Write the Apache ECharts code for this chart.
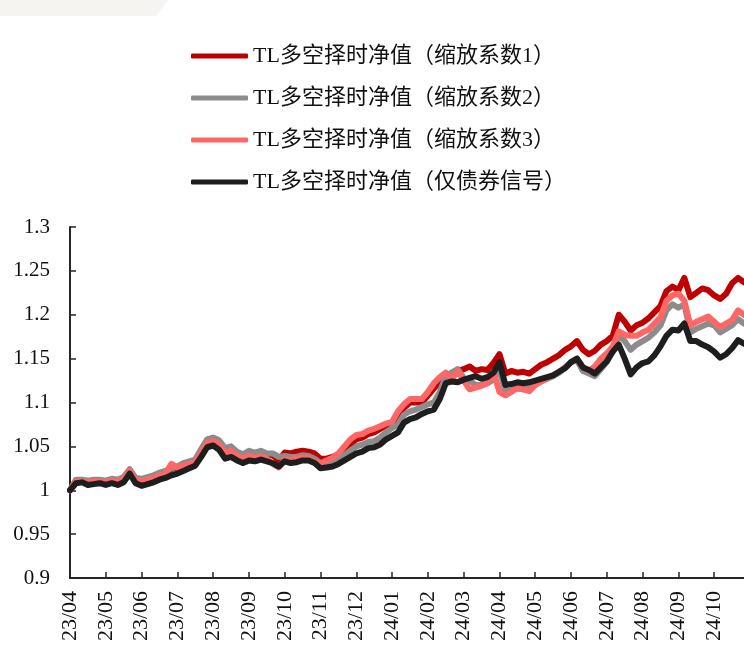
<!DOCTYPE html>
<html>
<head>
<meta charset="utf-8">
<script src="https://cdn.jsdelivr.net/npm/echarts@6/dist/echarts.min.js"></script>
<style>
  html, body { margin: 0; padding: 0; background: #fff; }
  #chart { width: 744px; height: 649px; }
</style>
</head>
<body>
<div id="chart"></div>
<script>
	// 月份与每月取点日（每月6个观测点）
	var months = ['2023-04','2023-05','2023-06','2023-07','2023-08','2023-09','2023-10','2023-11','2023-12',
	              '2024-01','2024-02','2024-03','2024-04','2024-05','2024-06','2024-07','2024-08','2024-09','2024-10'];
	var days = ['01','06','11','16','21','26'];

	var seriesNames = ['TL多空择时净值（缩放系数1）','TL多空择时净值（缩放系数2）','TL多空择时净值（缩放系数3）','TL多空择时净值（仅债券信号）'];
	var colors = ['#C00000','#8C8C8C','#FF6666','#1E1E1E'];

	// 缩放系数1
	var nav1 = [
		1.000, 1.011, 1.011, 1.010, 1.011, 1.011,
		1.010, 1.012, 1.011, 1.014, 1.023, 1.013,
		1.012, 1.014, 1.016, 1.019, 1.021, 1.024,
		1.026, 1.030, 1.032, 1.034, 1.046, 1.057,
		1.059, 1.055, 1.046, 1.048, 1.042, 1.039,
		1.043, 1.041, 1.043, 1.040, 1.040, 1.034,
		1.043, 1.042, 1.044, 1.045, 1.044, 1.042,
		1.036, 1.036, 1.038, 1.041, 1.046, 1.052,
		1.058, 1.060, 1.064, 1.066, 1.070, 1.074,
		1.076, 1.086, 1.094, 1.100, 1.100, 1.100,
		1.108, 1.116, 1.124, 1.132, 1.128, 1.136,
		1.138, 1.141, 1.136, 1.138, 1.137, 1.145,
		1.155, 1.133, 1.136, 1.134, 1.135, 1.133,
		1.138, 1.143, 1.146, 1.150, 1.154, 1.160,
		1.164, 1.170, 1.160, 1.155, 1.159, 1.166,
		1.170, 1.176, 1.200, 1.192, 1.182, 1.188,
		1.191, 1.196, 1.203, 1.210, 1.227, 1.232,
		1.228, 1.242, 1.220, 1.225, 1.230, 1.228,
		1.222, 1.218, 1.224, 1.236, 1.242, 1.237
	];
	// 缩放系数2
	var nav2 = [
		1.000, 1.012, 1.012, 1.011, 1.012, 1.012,
		1.011, 1.013, 1.012, 1.015, 1.024, 1.014,
		1.013, 1.015, 1.017, 1.020, 1.022, 1.025,
		1.027, 1.031, 1.033, 1.035, 1.047, 1.058,
		1.060, 1.057, 1.048, 1.050, 1.044, 1.041,
		1.045, 1.043, 1.045, 1.042, 1.042, 1.038,
		1.039, 1.038, 1.038, 1.040, 1.039, 1.036,
		1.031, 1.032, 1.033, 1.036, 1.040, 1.045,
		1.050, 1.052, 1.055, 1.056, 1.060, 1.066,
		1.071, 1.075, 1.086, 1.090, 1.092, 1.095,
		1.098, 1.100, 1.112, 1.130, 1.134, 1.138,
		1.128, 1.125, 1.120, 1.120, 1.122, 1.126,
		1.138, 1.112, 1.114, 1.116, 1.115, 1.117,
		1.120, 1.124, 1.127, 1.130, 1.134, 1.140,
		1.146, 1.148, 1.136, 1.133, 1.130, 1.138,
		1.146, 1.160, 1.176, 1.170, 1.160, 1.166,
		1.170, 1.174, 1.180, 1.188, 1.205, 1.212,
		1.208, 1.212, 1.180, 1.184, 1.187, 1.190,
		1.188, 1.180, 1.184, 1.188, 1.195, 1.190
	];
	// 缩放系数3
	var nav3 = [
		1.000, 1.010, 1.010, 1.009, 1.010, 1.010,
		1.009, 1.011, 1.010, 1.013, 1.022, 1.012,
		1.010, 1.012, 1.014, 1.017, 1.019, 1.030,
		1.026, 1.028, 1.030, 1.032, 1.043, 1.054,
		1.056, 1.052, 1.043, 1.045, 1.039, 1.036,
		1.039, 1.037, 1.039, 1.036, 1.030, 1.026,
		1.035, 1.034, 1.036, 1.037, 1.036, 1.032,
		1.030, 1.034, 1.037, 1.042, 1.050, 1.058,
		1.063, 1.064, 1.068, 1.070, 1.073, 1.076,
		1.078, 1.090, 1.098, 1.104, 1.104, 1.104,
		1.112, 1.122, 1.129, 1.134, 1.126, 1.136,
		1.125, 1.115, 1.117, 1.119, 1.122, 1.135,
		1.112, 1.108, 1.112, 1.117, 1.115, 1.113,
		1.120, 1.124, 1.128, 1.131, 1.135, 1.140,
		1.146, 1.150, 1.140, 1.136, 1.141, 1.150,
		1.156, 1.164, 1.181, 1.177, 1.176, 1.176,
		1.180, 1.183, 1.190, 1.197, 1.216, 1.222,
		1.224, 1.216, 1.188, 1.192, 1.195, 1.198,
		1.192, 1.186, 1.190, 1.194, 1.205, 1.200
	];
	// 仅债券信号
	var nav4 = [
		1.000, 1.008, 1.009, 1.006, 1.007, 1.008,
		1.006, 1.008, 1.006, 1.009, 1.019, 1.008,
		1.005, 1.007, 1.009, 1.012, 1.014, 1.017,
		1.019, 1.022, 1.025, 1.028, 1.038, 1.049,
		1.051, 1.046, 1.036, 1.038, 1.034, 1.031,
		1.034, 1.033, 1.035, 1.033, 1.031, 1.027,
		1.033, 1.031, 1.032, 1.034, 1.034, 1.031,
		1.025, 1.026, 1.027, 1.030, 1.034, 1.038,
		1.042, 1.044, 1.048, 1.049, 1.052, 1.058,
		1.062, 1.066, 1.077, 1.081, 1.083, 1.087,
		1.090, 1.092, 1.104, 1.122, 1.124, 1.123,
		1.126, 1.128, 1.130, 1.127, 1.129, 1.134,
		1.146, 1.120, 1.121, 1.123, 1.122, 1.123,
		1.125, 1.127, 1.129, 1.131, 1.135, 1.139,
		1.146, 1.150, 1.140, 1.137, 1.133, 1.140,
		1.147, 1.158, 1.166, 1.150, 1.132, 1.140,
		1.145, 1.147, 1.154, 1.164, 1.176, 1.183,
		1.182, 1.190, 1.170, 1.170, 1.166, 1.163,
		1.158, 1.151, 1.155, 1.162, 1.171, 1.167
	];

	var dates = [];
	for (var m = 0; m < months.length; m++) {
		for (var d = 0; d < days.length; d++) {
			dates.push(months[m] + '-' + days[d]);
		}
	}
	var navs = [nav1, nav2, nav3, nav4];

	var series = [];
	for (var i = 0; i < navs.length; i++) {
		series.push({
			name: seriesNames[i],
			type: 'line',
			data: navs[i],
			symbol: 'none',
			showSymbol: false,
			lineStyle: { color: colors[i], width: 6, cap: 'round', join: 'round' },
			itemStyle: { color: colors[i] },
			z: 2 + i
		});
	}

	var serif = "'Liberation Serif', 'Noto Sans CJK SC', serif";
	var chart = echarts.init(document.getElementById('chart'));
	chart.setOption({
		animation: false,
		backgroundColor: '#ffffff',
		graphic: [{
			type: 'polygon',
			shape: { points: [[0, 0], [168, 0], [156, 16], [0, 16]] },
			style: { fill: '#F6F4F1' },
			silent: true
		}],
		legend: {
			orient: 'vertical',
			left: 186,
			top: 40,
			icon: 'roundRect',
			itemWidth: 57,
			itemHeight: 5,
			itemGap: 20,
			data: seriesNames,
			textStyle: { fontFamily: serif, fontSize: 22, color: '#111' }
		},
		grid: { left: 70, right: 0, top: 227, bottom: 71, containLabel: false },
		xAxis: {
			type: 'category',
			boundaryGap: false,
			data: dates,
			axisLine: { lineStyle: { color: '#262626', width: 2 } },
			axisTick: { inside: true, length: 6, interval: 5, lineStyle: { color: '#262626', width: 1.5 } },
			axisLabel: {
				interval: 5,
				rotate: 90,
				margin: 13,
				fontFamily: serif,
				fontSize: 22,
				color: '#111',
				formatter: function (v) { return v.slice(2, 4) + '/' + v.slice(5, 7); }
			},
			splitLine: { show: false }
		},
		yAxis: {
			type: 'value',
			min: 0.9,
			max: 1.3,
			interval: 0.05,
			axisLine: { show: true, lineStyle: { color: '#262626', width: 2 } },
			axisTick: { show: true, inside: true, length: 6, lineStyle: { color: '#262626', width: 1.5 } },
			axisLabel: { margin: 20, fontFamily: serif, fontSize: 21, color: '#111' },
			splitLine: { show: false }
		},
		series: series
	});
	window.onresize = chart.resize;
</script>
</body>
</html>
